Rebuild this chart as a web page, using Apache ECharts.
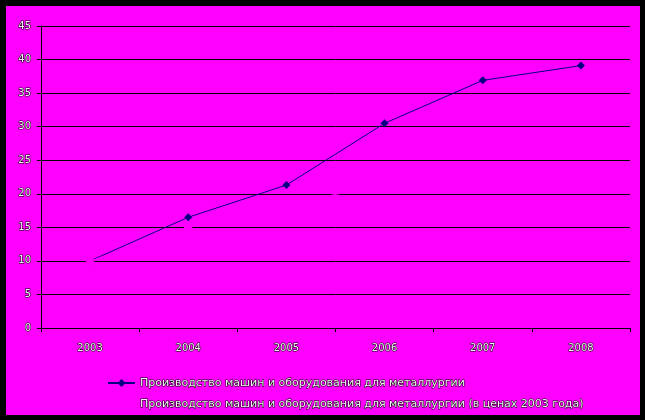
<!DOCTYPE html>
<html>
<head>
<meta charset="utf-8">
<script src="https://cdn.jsdelivr.net/npm/echarts@6/dist/echarts.min.js"></script>
<style>
  html, body { margin: 0; padding: 0; background: #000; }
  #wrap { position: relative; width: 645px; height: 420px; background: #000; }
  #pane { position: absolute; left: 6px; top: 6px; width: 634px; height: 409px; background: #ff00ff; }
  #chart { position: absolute; left: 0; top: 0; width: 645px; height: 420px; }
</style>
</head>
<body>
<div id="wrap"><div id="pane"></div><div id="chart"></div></div>
<script>
const years = ['2003', '2004', '2005', '2006', '2007', '2008'];
const seriesName1 = 'Производство машин и оборудования для металлургии';
const seriesName2 = 'Производство машин и оборудования для металлургии (в ценах 2003 года)';
const values1 = [10, 16.5, 21.3, 30.5, 36.9, 39.1];
const values2 = [10, 15, 18.5, 21.3, 23.4, 23.8];
const yTicks = [0, 5, 10, 15, 20, 25, 30, 35, 40, 45];

const textStyleBase = {
  color: '#f2f2f2',
  textBorderColor: '#000',
  textBorderWidth: 1,
  fontFamily: 'DejaVu Sans',
  fontSize: 10
};

const chart = echarts.init(document.getElementById('chart'), null, { renderer: 'canvas' });
chart.setOption({
  backgroundColor: 'transparent',
  animation: false,
  grid: { left: 41, right: 15, top: 26, bottom: 92, containLabel: false },
  legend: {
    orient: 'vertical',
    left: 102,
    top: 372,
    itemWidth: 27,
    itemHeight: 10,
    itemGap: 9,
    data: [seriesName1, seriesName2],
    textStyle: Object.assign({}, textStyleBase, { fontSize: 11 })
  },
  xAxis: {
    type: 'category',
    data: years,
    boundaryGap: true,
    axisLine: { lineStyle: { color: '#000', width: 1 } },
    axisTick: { show: true, length: 4, lineStyle: { color: '#000' } },
    axisLabel: Object.assign({ margin: 15 }, textStyleBase)
  },
  yAxis: {
    type: 'value',
    min: yTicks[0],
    max: yTicks[yTicks.length - 1],
    interval: 5,
    axisLine: { show: true, lineStyle: { color: '#000', width: 1 } },
    axisTick: { show: true, length: 4, lineStyle: { color: '#000' } },
    axisLabel: Object.assign({ margin: 10 }, textStyleBase),
    splitLine: { show: true, lineStyle: { color: '#000', width: 1 } }
  },
  series: [
    {
      name: seriesName1,
      type: 'line',
      data: values1,
      symbol: 'diamond',
      symbolSize: 8,
      lineStyle: { color: '#000080', width: 1 },
      itemStyle: { color: '#000080' }
    },
    {
      name: seriesName2,
      type: 'line',
      data: values2,
      symbol: 'diamond',
      symbolSize: 9,
      lineStyle: { color: '#ff00ff', width: 1 },
      itemStyle: { color: '#ff00ff' }
    }
  ]
});
</script>
</body>
</html>
